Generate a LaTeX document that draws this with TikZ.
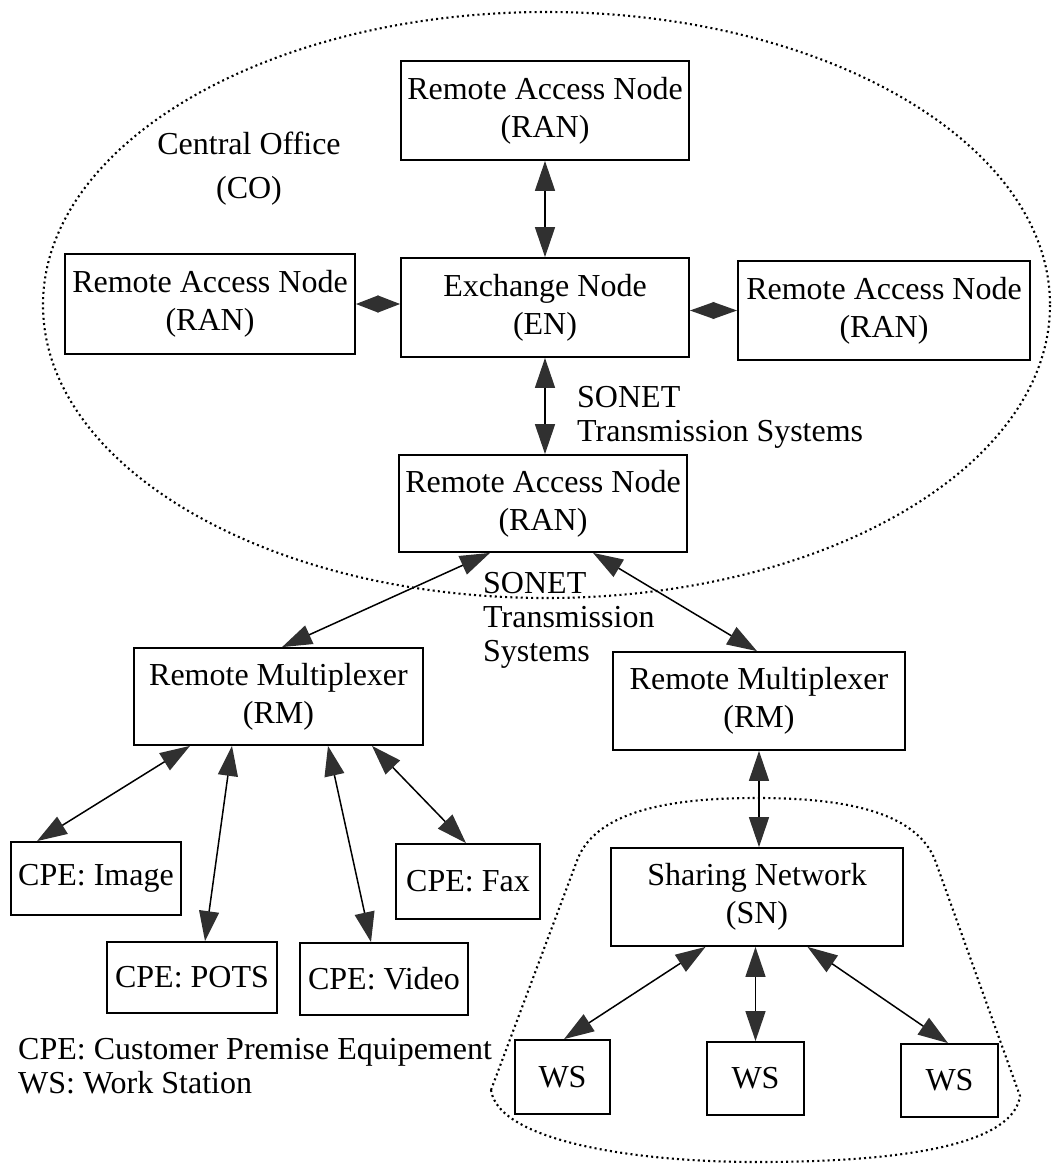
\documentclass[tikz,border=0pt]{standalone}
\usepackage{fontspec}
\setmainfont{Liberation Serif}
\usetikzlibrary{arrows.meta}
\definecolor{tipgray}{HTML}{303030}
\begin{document}
\begin{tikzpicture}[x=1pt,y=-1pt,
  box/.style={draw, line width=1.8pt, inner sep=0pt, align=center,
    font=\fontsize{32}{38}\selectfont},
  biarrow/.style={line width=1.5pt,
    {Triangle[length=30pt,width=20pt,color=tipgray]}-{Triangle[length=30pt,width=20pt,color=tipgray]}},
  diarrow/.style={line width=1.5pt,
    {Triangle[length=#1,width=17pt,color=tipgray]}-{Triangle[length=#1,width=17pt,color=tipgray]}},
  region/.style={line width=2.1pt, dash pattern=on 2pt off 3.2pt},
  label/.style={inner sep=0pt, align=left, font=\fontsize{32}{34}\selectfont}]
\useasboundingbox (0,0) rectangle (1055,1167);

% central office boundary
\draw[region] (546.5,305) ellipse [x radius=503.5, y radius=293];
\node[inner sep=0pt, anchor=north, align=center,
  font=\fontsize{32}{44}\selectfont] (co) at (249,132) {Central Office\\(CO)};

% central office equipment
\node[box, minimum width=288, minimum height=99] (ranTop) at (545,110.5) {Remote Access Node\\(RAN)};
\node[box, minimum width=288, minimum height=99] (en) at (545,307.5) {Exchange Node\\(EN)};
\node[box, minimum width=290, minimum height=100] (ranL) at (210,304) {Remote Access Node\\(RAN)};
\node[box, minimum width=292, minimum height=99] (ranR) at (884,310.5) {Remote Access Node\\(RAN)};
\node[box, minimum width=288, minimum height=97] (ranB) at (543,503.5) {Remote Access Node\\(RAN)};

\draw[biarrow] (ranTop.south) -- (en.north);
\draw[biarrow] (en.south) -- (en.south |- ranB.north);
\draw[diarrow=22.5pt] (ranL.east) -- (ranL.east -| en.west);
\draw[diarrow=24.5pt] (ranR.west -| en.east) -- (ranR.west);

\node[label, anchor=north west] (sonetA) at (577,386) {SONET\\Transmission Systems};
\node[label, anchor=north west] (sonetB) at (483,572) {SONET\\Transmission\\Systems};

% remote multiplexers
\node[box, minimum width=289, minimum height=97] (rmL) at (278.5,696.5) {Remote Multiplexer\\(RM)};
\node[box, minimum width=292, minimum height=98] (rmR) at (759,701) {Remote Multiplexer\\(RM)};

\draw[biarrow] ([xshift=-53pt]ranB.south) -- ([xshift=3.5pt]rmL.north);
\draw[biarrow] ([xshift=50pt]ranB.south) -- ([xshift=-2pt]rmR.north);

% customer premise equipment
\node[box, minimum width=170, minimum height=73] (cpeImg) at (96,878.5) {CPE: Image};
\node[box, minimum width=144, minimum height=75] (cpeFax) at (468,881.5) {CPE: Fax};
\node[box, minimum width=170, minimum height=71] (cpePots) at (192,977.5) {CPE: POTS};
\node[box, minimum width=168, minimum height=72] (cpeVid) at (384,979) {CPE: Video};

\draw[biarrow] ([xshift=-88.5pt]rmL.south) -- ([xshift=-59pt]cpeImg.north);
\draw[biarrow] ([xshift=-46.5pt]rmL.south) -- ([xshift=13pt]cpePots.north);
\draw[biarrow] ([xshift=49.5pt]rmL.south) -- ([xshift=-13pt]cpeVid.north);
\draw[biarrow] ([xshift=93.5pt]rmL.south) -- ([xshift=-2pt]cpeFax.north);

% sharing network and work stations
\draw[region] (491,1090) -- (578,858)
  .. controls (600,805) and (690,798) .. (757,798)
  .. controls (840,798) and (915,810) .. (935,860)
  -- (1020,1096) .. controls (1012,1150) and (880,1162) .. (757,1162)
  .. controls (630,1162) and (498,1140) .. cycle;

\node[box, minimum width=292, minimum height=98] (sn) at (757,897) {Sharing Network\\(SN)};
\node[box, minimum width=95, minimum height=74] (ws1) at (562.5,1077) {WS};
\node[box, minimum width=97, minimum height=73] (ws2) at (755.5,1078.5) {WS};
\node[box, minimum width=97, minimum height=73] (ws3) at (949.5,1080.5) {WS};

\draw[biarrow] (rmR.south) -- (rmR.south |- sn.north);
\draw[biarrow] ([xshift=-51.5pt]sn.south) -- ([xshift=1.5pt]ws1.north);
\draw[biarrow] (ws2.north |- sn.south) -- (ws2.north);
\draw[biarrow] ([xshift=50.5pt]sn.south) -- ([xshift=-1.5pt]ws3.north);

% abbreviations
\node[label, anchor=north west] (legend) at (18,1038) {CPE: Customer Premise Equipement\\WS: Work Station};
\end{tikzpicture}
\end{document}
